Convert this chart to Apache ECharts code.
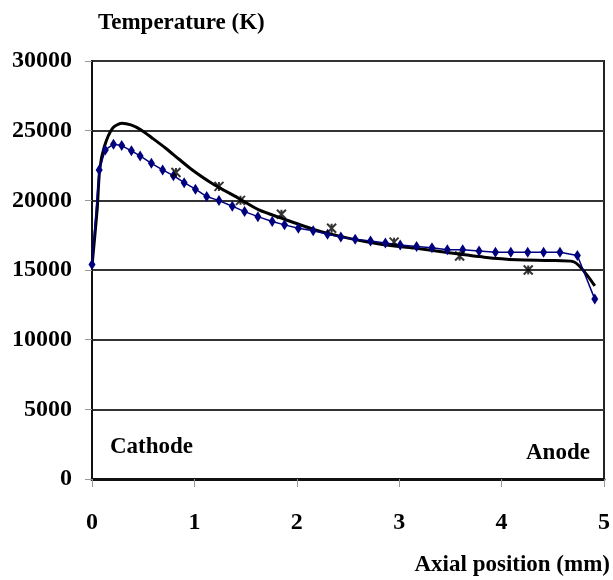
<!DOCTYPE html>
<html>
<head>
<meta charset="utf-8">
<script src="https://cdn.jsdelivr.net/npm/echarts@6/dist/echarts.min.js"></script>
<style>
  html, body { margin: 0; padding: 0; background: #fff; }
  #main { width: 613px; height: 580px; }
</style>
</head>
<body>
<div id="main"></div>
<script>
// model curve (black line)
var modelX = [0, 0.05, 0.075, 0.12, 0.2, 0.29, 0.38, 0.48, 0.59, 0.72, 0.85, 0.98, 1.17, 1.43, 1.63, 1.85, 2.18, 2.5, 2.82, 3.15, 3.47, 3.83, 4.15, 4.47, 4.70, 4.91];
var modelT = [15300, 19300, 22200, 23850, 25170, 25530, 25410, 25050, 24460, 23740, 22950, 22180, 21230, 20150, 19310, 18720, 17880, 17290, 16850, 16570, 16250, 15920, 15730, 15680, 15600, 13860];

// blue curve with diamond markers
var blueX = [0, 0.07, 0.13, 0.21, 0.29, 0.385, 0.47, 0.58, 0.69, 0.795, 0.90, 1.01, 1.12, 1.24, 1.37, 1.49, 1.62, 1.76, 1.88, 2.015, 2.16, 2.30, 2.43, 2.57, 2.72, 2.865, 3.01, 3.17, 3.32, 3.47, 3.62, 3.78, 3.94, 4.09, 4.255, 4.41, 4.57, 4.74, 4.91];
var blueT = [15400, 22180, 23620, 24030, 23930, 23550, 23190, 22660, 22180, 21770, 21270, 20800, 20270, 19980, 19580, 19190, 18830, 18480, 18240, 18000, 17810, 17570, 17360, 17210, 17090, 16930, 16800, 16680, 16600, 16450, 16450, 16370, 16280, 16280, 16280, 16280, 16280, 16040, 12910];

// measured points (star markers)
var measX = [0.82, 1.24, 1.45, 1.85, 2.34, 2.95, 3.59, 4.26];
var measT = [22000, 21000, 20000, 19000, 18000, 17000, 16000, 15000];

var yTicks = [0, 5000, 10000, 15000, 20000, 25000, 30000];
var xTicks = [0, 1, 2, 3, 4, 5];

function pairs(xs, ys) {
  var out = [];
  for (var i = 0; i < xs.length; i++) {
    out.push([xs[i], ys[i]]);
  }
  return out;
}

var font = 'Liberation Serif';
var textFont = 'bold 23px "Liberation Serif"';

var myChart = echarts.init(document.getElementById('main'));
var option = {
  animation: false,
  grid: {
    left: 92,
    right: 5,
    top: 61,
    bottom: 101,
    show: true,
    borderColor: '#222',
    borderWidth: 2
  },
  xAxis: {
    type: 'value',
    min: xTicks[0],
    max: xTicks[xTicks.length - 1],
    interval: 1,
    axisLine: { lineStyle: { color: '#111', width: 3 } },
    axisTick: { show: true, inside: false, length: 8, lineStyle: { color: '#999', width: 1 } },
    splitLine: { show: false },
    axisLabel: { margin: 32, color: '#000', fontFamily: font, fontWeight: 'bold', fontSize: 24 }
  },
  yAxis: {
    type: 'value',
    min: yTicks[0],
    max: yTicks[yTicks.length - 1],
    interval: 5000,
    axisLine: { show: true, lineStyle: { color: '#111', width: 2 } },
    axisTick: { show: true, inside: false, length: 7, lineStyle: { color: '#999', width: 1 } },
    splitLine: { show: true, lineStyle: { color: '#333', width: 2 } },
    axisLabel: {
      margin: 20, color: '#000', fontFamily: font, fontWeight: 'bold', fontSize: 24,
      formatter: function (v) { return String(v); }
    }
  },
  graphic: [
    { type: 'text', left: 98, top: 12, style: { text: 'Temperature (K)', fill: '#000', font: textFont } },
    { type: 'text', left: 110, top: 436, style: { text: 'Cathode', fill: '#000', font: textFont } },
    { type: 'text', left: 526, top: 442, style: { text: 'Anode', fill: '#000', font: textFont } },
    { type: 'text', right: 3, top: 554, style: { text: 'Axial position (mm)', fill: '#000', font: textFont } }
  ],
  series: [
    {
      type: 'line',
      data: pairs(blueX, blueT),
      symbol: 'diamond',
      symbolSize: [7, 11],
      itemStyle: { color: '#00007f' },
      lineStyle: { color: '#00007f', width: 1.5 },
      z: 3
    },
    {
      type: 'line',
      data: pairs(modelX, modelT),
      showSymbol: false,
      smooth: 0.25,
      lineStyle: { color: '#000', width: 3 },
      z: 2
    },
    {
      type: 'scatter',
      data: pairs(measX, measT),
      symbol: 'path://M0,0 L10,10 M10,0 L0,10 M5,0 L5,10',
      symbolSize: 9,
      itemStyle: { color: 'none', borderColor: '#000', borderWidth: 2 },
      z: 4
    }
  ]
};
myChart.setOption(option);
</script>
</body>
</html>
